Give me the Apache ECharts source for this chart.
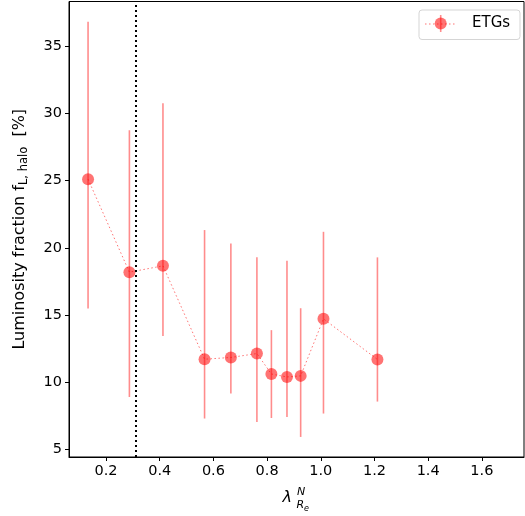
<!DOCTYPE html>
<html>
<head>
<meta charset="utf-8">
<script src="https://cdn.jsdelivr.net/npm/echarts@6/dist/echarts.min.js"></script>
<style>html,body{margin:0;padding:0;background:#fff}#c{width:525px;height:516px}</style>
</head>
<body>
<div id="c"></div>
<script>
const lambdaVals = [0.133, 0.287, 0.412, 0.567, 0.665, 0.762, 0.816, 0.874, 0.925, 1.010, 1.211];
const fracVals   = [25.1, 18.19, 18.66, 11.72, 11.85, 12.14, 10.62, 10.40, 10.48, 14.72, 11.70];
const errLow     = [15.48, 8.91, 13.44, 7.31, 9.17, 7.05, 7.35, 7.43, 5.94, 7.68, 8.57];
const errHigh    = [36.8, 28.74, 30.74, 21.32, 20.33, 19.29, 13.88, 19.03, 15.51, 21.19, 19.29];
const xTicks = [0.2, 0.4, 0.6, 0.8, 1.0, 1.2, 1.4, 1.6];
const yTicks = [5, 10, 15, 20, 25, 30, 35];
const vLineX = 0.309;
const seriesName = 'ETGs';

const FONT = 'DejaVu Sans';
const pts = lambdaVals.map((x, i) => [x, fracVals[i]]);
const bars = lambdaVals.map((x, i) => [x, errLow[i], errHigh[i]]);

const chart = echarts.init(document.getElementById('c'), null, {renderer: 'canvas'});
chart.setOption({
  animation: false,
  backgroundColor: '#fff',
  grid: {left: 69, top: 1.5, right: 1, bottom: 59, show: true, borderColor: '#000', borderWidth: 1, backgroundColor: 'transparent'},
  xAxis: {
    type: 'value', min: 0.062, max: 1.757,
    splitLine: {show: false},
    axisLine: {onZero: false, lineStyle: {color: '#000', width: 1}},
    axisTick: {show: true, length: 4, lineStyle: {color: '#000'}, customValues: xTicks},
    axisLabel: {color: '#000', fontFamily: FONT, fontSize: 14.5, margin: 7, customValues: xTicks,
      formatter: v => v.toFixed(1)}
  },
  yAxis: {
    type: 'value', min: 4.45, max: 38.31,
    splitLine: {show: false},
    axisLine: {onZero: false, lineStyle: {color: '#000', width: 1}},
    axisTick: {show: true, length: 4, lineStyle: {color: '#000'}, customValues: yTicks},
    axisLabel: {color: '#000', fontFamily: FONT, fontSize: 14.5, margin: 7, customValues: yTicks},
    name: '{a|Luminosity fraction f}{s|L, halo}{a|  [%]}',
    nameLocation: 'middle', nameGap: 39, nameRotate: 90,
    nameTextStyle: {
      color: '#000', fontFamily: FONT, fontSize: 16,
      rich: {
        a: {fontFamily: FONT, fontSize: 16, color: '#000'},
        s: {fontFamily: FONT, fontSize: 11.5, color: '#000', padding: [9, 0, 0, 0]}
      }
    }
  },
  series: [
    {
      type: 'custom',
      name: 'err',
      data: bars,
      encode: {x: 0, y: [1, 2]},
      z: 2,
      renderItem: function (params, api) {
        const x = api.value(0);
        const lo = api.coord([x, api.value(1)]);
        const hi = api.coord([x, api.value(2)]);
        return {
          type: 'line',
          shape: {x1: lo[0], y1: lo[1], x2: hi[0], y2: hi[1]},
          style: {stroke: 'rgba(255,0,0,0.45)', lineWidth: 1.6}
        };
      }
    },
    {
      type: 'line',
      name: seriesName,
      data: pts,
      z: 3,
      symbol: 'circle',
      symbolSize: 12,
      itemStyle: {color: 'rgba(255,0,0,0.55)', borderWidth: 0},
      lineStyle: {type: [1.5, 2.5], width: 1, color: 'rgba(255,0,0,0.55)'},
      markLine: {
        silent: true,
        symbol: 'none',
        label: {show: false},
        lineStyle: {color: '#000', type: [2, 3], width: 2},
        data: [{xAxis: vLineX}]
      }
    }
  ],
  graphic: [
    {type: 'rect', left: 418.5, top: 9.5, shape: {width: 101, height: 29.5, r: 3},
     style: {fill: 'rgba(255,255,255,0.8)', stroke: '#d5d5d5', lineWidth: 1}, z: 10},
    {type: 'line', shape: {x1: 425, y1: 24, x2: 457, y2: 24},
     style: {stroke: 'rgba(255,0,0,0.55)', lineWidth: 1, lineDash: [1.5, 2.5]}, z: 11},
    {type: 'line', shape: {x1: 440.7, y1: 15, x2: 440.7, y2: 32},
     style: {stroke: 'rgba(255,0,0,0.45)', lineWidth: 1.6}, z: 11},
    {type: 'circle', shape: {cx: 440.7, cy: 23.5, r: 6},
     style: {fill: 'rgba(255,0,0,0.55)'}, z: 11},
    {type: 'text', left: 472, top: 15.5, style: {text: seriesName, fill: '#000', font: '15px "DejaVu Sans"'}, z: 11},
    {type: 'text', left: 282.5, top: 489.5, style: {text: 'λ', fill: '#000', font: 'italic 16px "DejaVu Sans"'}},
    {type: 'text', left: 297, top: 486.5, style: {text: 'N', fill: '#000', font: 'italic 11px "DejaVu Sans"'}},
    {type: 'text', left: 296.5, top: 499.5, style: {text: 'R', fill: '#000', font: 'italic 11px "DejaVu Sans"'}},
    {type: 'text', left: 304, top: 504.5, style: {text: 'e', fill: '#000', font: 'italic 8px "DejaVu Sans"'}}
  ]
});
</script>
</body>
</html>
